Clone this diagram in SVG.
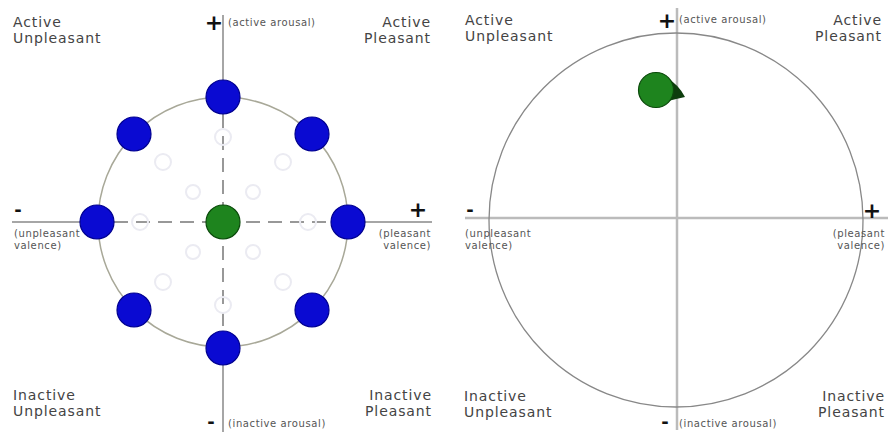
<svg xmlns="http://www.w3.org/2000/svg" width="891" height="435" viewBox="0 0 891 435">
<style>
.q{font-family:"DejaVu Sans",Verdana,sans-serif;font-size:14px;letter-spacing:0.9px;fill:#444}
.s{font-family:"DejaVu Sans",Verdana,sans-serif;font-size:10px;letter-spacing:0.6px;fill:#555}
.sign{font-family:"DejaVu Sans",Verdana,sans-serif;font-weight:bold;fill:#111}
.r{text-anchor:end}
.axis{stroke:#888;stroke-width:1.5;fill:none}
.axis2{stroke:#bbb;stroke-width:2.5;fill:none}
.dash{stroke:#777;stroke-width:1.5;stroke-dasharray:14 8;fill:none}
.ring{stroke:#a8a898;stroke-width:1.5;fill:none}
.ring2{stroke:#888;stroke-width:1.3;fill:none}
.blue{fill:#0a0ad2;stroke:#000090;stroke-width:1.2}
.green{fill:#1e841e;stroke:#0b4a0b;stroke-width:1.2}
.ghost{fill:none;stroke:#ebebf2;stroke-width:2}
</style>
<rect width="891" height="435" fill="#fff"/>

<g id="connectors">
  <line class="axis" x1="223" y1="15" x2="223" y2="80"/>
  <line class="axis" x1="223" y1="365" x2="223" y2="432"/>
  <line class="axis" x1="12" y1="222" x2="80" y2="222"/>
  <line class="axis" x1="365" y1="222" x2="432" y2="222"/>
  <line class="dash" x1="223" y1="114" x2="223" y2="331"/>
  <line class="dash" x1="114" y1="222" x2="331" y2="222"/>
  <circle class="ring" cx="223" cy="222" r="125"/>
  <line class="axis2" x1="677" y1="8" x2="677" y2="430"/>
  <line class="axis2" x1="465" y1="218" x2="888" y2="218"/>
  <circle class="ring2" cx="676" cy="220" r="187"/>
</g>

<g id="ghosts">
  <circle class="ghost" cx="223" cy="137" r="8"/>
  <circle class="ghost" cx="283" cy="162" r="8"/>
  <circle class="ghost" cx="308" cy="222" r="8"/>
  <circle class="ghost" cx="283" cy="282" r="8"/>
  <circle class="ghost" cx="223" cy="305" r="8"/>
  <circle class="ghost" cx="163" cy="282" r="8"/>
  <circle class="ghost" cx="140" cy="222" r="8"/>
  <circle class="ghost" cx="163" cy="162" r="8"/>
  <circle class="ghost" cx="193" cy="192" r="7"/>
  <circle class="ghost" cx="253" cy="192" r="7"/>
  <circle class="ghost" cx="253" cy="252" r="7"/>
  <circle class="ghost" cx="193" cy="252" r="7"/>
</g>

<g id="node-n"><circle class="blue" cx="223" cy="97" r="17"/></g>
<g id="node-ne"><circle class="blue" cx="312" cy="134" r="17"/></g>
<g id="node-e"><circle class="blue" cx="348" cy="222" r="17"/></g>
<g id="node-se"><circle class="blue" cx="312" cy="310" r="17"/></g>
<g id="node-s"><circle class="blue" cx="223" cy="348" r="17"/></g>
<g id="node-sw"><circle class="blue" cx="134" cy="310" r="17"/></g>
<g id="node-w"><circle class="blue" cx="97" cy="222" r="17"/></g>
<g id="node-nw"><circle class="blue" cx="134" cy="134" r="17"/></g>
<g id="node-center"><circle class="green" cx="223" cy="222" r="17"/></g>

<g id="node-blob">
  <path d="M666 77 Q679 85 685 97 Q676 99 668 101 Z" fill="#0d3d0d"/>
  <circle class="green" cx="656" cy="90" r="17.5"/>
</g>

<g id="labels-left">
  <text class="q" x="13" y="27">Active</text>
  <text class="q" x="13" y="43">Unpleasant</text>
  <text class="q r" x="431" y="27">Active</text>
  <text class="q r" x="431" y="43">Pleasant</text>
  <text class="q" x="13" y="400">Inactive</text>
  <text class="q" x="13" y="416">Unpleasant</text>
  <text class="q r" x="432" y="400">Inactive</text>
  <text class="q r" x="432" y="416">Pleasant</text>
  <text class="sign" x="214" y="30" font-size="22" text-anchor="middle">+</text>
  <text class="s" x="228" y="26">(active arousal)</text>
  <text class="sign" x="18" y="216" font-size="18" text-anchor="middle">-</text>
  <text class="sign" x="418" y="217" font-size="22" text-anchor="middle">+</text>
  <text class="s" x="14" y="237">(unpleasant</text>
  <text class="s" x="14" y="249">valence)</text>
  <text class="s r" x="431" y="237">(pleasant</text>
  <text class="s r" x="431" y="249">valence)</text>
  <text class="sign" x="211" y="428" font-size="18" text-anchor="middle">-</text>
  <text class="s" x="228" y="427">(inactive arousal)</text>
</g>

<g id="labels-right">
  <text class="q" x="465" y="25">Active</text>
  <text class="q" x="465" y="41">Unpleasant</text>
  <text class="q r" x="882" y="25">Active</text>
  <text class="q r" x="882" y="41">Pleasant</text>
  <text class="q" x="464" y="401">Inactive</text>
  <text class="q" x="464" y="417">Unpleasant</text>
  <text class="q r" x="885" y="401">Inactive</text>
  <text class="q r" x="885" y="417">Pleasant</text>
  <text class="sign" x="667" y="28" font-size="22" text-anchor="middle">+</text>
  <text class="s" x="679" y="23">(active arousal)</text>
  <text class="sign" x="470" y="216" font-size="18" text-anchor="middle">-</text>
  <text class="sign" x="872" y="218" font-size="22" text-anchor="middle">+</text>
  <text class="s" x="465" y="237">(unpleasant</text>
  <text class="s" x="465" y="249">valence)</text>
  <text class="s r" x="885" y="237">(pleasant</text>
  <text class="s r" x="885" y="249">valence)</text>
  <text class="sign" x="665" y="428" font-size="18" text-anchor="middle">-</text>
  <text class="s" x="679" y="427">(inactive arousal)</text>
</g>
</svg>
